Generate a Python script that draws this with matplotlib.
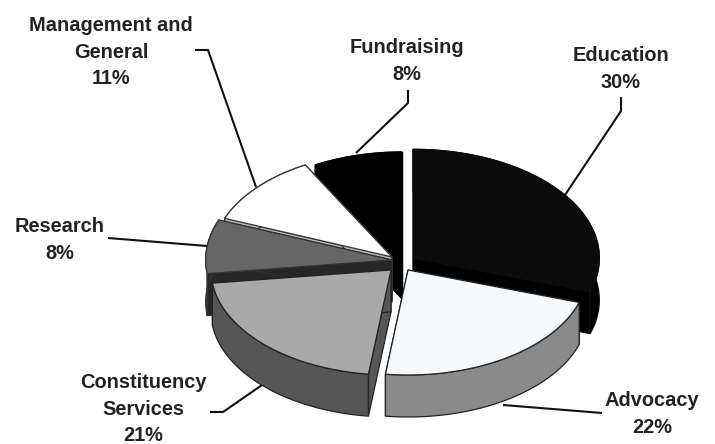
import numpy as np
import matplotlib
matplotlib.use("Agg")
import matplotlib.pyplot as plt
from matplotlib.patches import Polygon

# Budget shares, clockwise from twelve o'clock
categories = ["Education", "Advocacy", "Constituency\nServices", "Research",
              "Management and\nGeneral", "Fundraising"]
shares = [30, 22, 21, 8, 11, 8]

# Slice styling and pulled-out placement (canvas pixels)
tip_x = [413, 408, 391, 392, 392, 402]
tip_y = [258, 270, 270, 260, 257, 257]
radius_scale = [1.035, 1.0, 1.0, 1.035, 1.0, 1.0]
top_colors = ["#0b0b0b", "#f7fafc", "#a9a9a9", "#666666", "#ffffff", "#000000"]
side_colors = ["#000000", "#8a8a8a", "#565656", "#262626", "#b5b5b5", "#000000"]
edge_colors = ["#0b0b0b", "#222222", "#222222", "#333333", "#333333", "#000000"]
draw_order = [5, 4, 0, 3, 1, 2]

# Leader lines and label anchors
label_xy = [(621, 69), (652, 414), (143, 409), (60, 240), (111, 52), (407, 61)]
leader_xs = [(621, 621, 563), (602, 503), (210, 223, 262), (108, 207), (195, 208, 256), (408, 408, 356)]
leader_ys = [(97, 111, 198), (413, 405), (412, 412, 385), (238, 246), (50, 50, 187), (90, 103, 153)]

RX, RY, DEPTH = 180, 105, 42

plt.rcParams["font.family"] = ["Liberation Sans", "DejaVu Sans"]
fig = plt.figure(figsize=(7.15, 4.44), dpi=100)
ax = fig.add_axes([0, 0, 1, 1])
ax.set_xlim(0, 715)
ax.set_ylim(444, 0)
ax.axis("off")

edges = np.cumsum([0] + shares) / sum(shares) * 2 * np.pi


def rim(i):
    t = np.linspace(edges[i], edges[i + 1], 90)
    k = radius_scale[i]
    return (tip_x[i] + k * RX * np.sin(t), tip_y[i] - k * RY * np.cos(t))


for i in draw_order:
    x, y = rim(i)
    ec = edge_colors[i]
    # cut faces running from the centre out to each end of the rim
    for j in (0, -1):
        face = [(tip_x[i], tip_y[i]), (x[j], y[j]), (x[j], y[j] + DEPTH), (tip_x[i], tip_y[i] + DEPTH)]
        ax.add_patch(Polygon(face, closed=True, fc=side_colors[i], ec=ec, lw=0.9, zorder=2))
    # outer wall
    wall = np.r_[np.c_[x, y], np.c_[x[::-1], y[::-1] + DEPTH]]
    ax.add_patch(Polygon(wall, closed=True, fc=side_colors[i], ec=ec, lw=0.9, zorder=2))
    # top surface
    top = np.r_[[(tip_x[i], tip_y[i])], np.c_[x, y]]
    ax.add_patch(Polygon(top, closed=True, fc=top_colors[i], ec=ec, lw=0.9, zorder=2))

for i, name in enumerate(categories):
    ax.plot(leader_xs[i], leader_ys[i], color="#111111", lw=1.5, zorder=1,
            solid_joinstyle="round", solid_capstyle="butt")
    ax.text(label_xy[i][0], label_xy[i][1], f"{name}\n{shares[i]}%", ha="center", va="center",
            fontsize=14.4, fontweight="bold", color="#222222", linespacing=1.5, zorder=3)

fig.savefig("out.png", dpi=100, facecolor="white")
